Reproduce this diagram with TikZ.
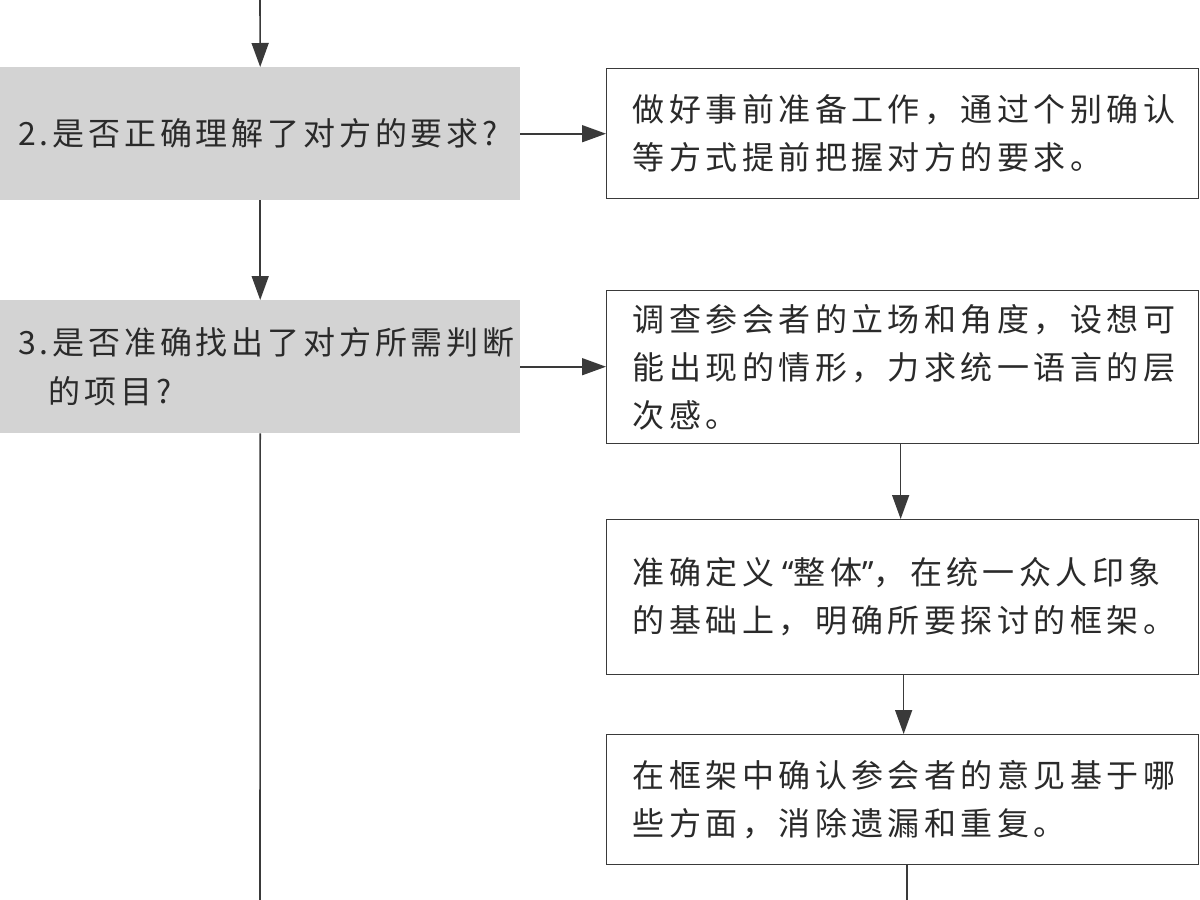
\documentclass[tikz,border=0pt]{standalone}
\usepackage{fontspec}
\usetikzlibrary{arrows.meta}
\newfontfamily\cjkright[LetterSpace=14]{Noto Sans CJK SC}
\newfontfamily\cjkgray[LetterSpace=12]{Noto Sans CJK SC}
\newfontfamily\quotefont{Noto Sans}
\definecolor{boxgray}{HTML}{D3D3D3}
\definecolor{linegray}{HTML}{3A3A3A}
\definecolor{txtgray}{HTML}{2A2A2A}
\newcommand{\righttext}{\cjkright\fontsize{32}{48}\selectfont}
\newcommand{\graytext}{\cjkgray\fontsize{32}{49}\selectfont}
\tikzset{
  graybox/.style={fill=boxgray, draw=none, minimum width=520pt, inner xsep=18pt,
    text width=484pt, align=left, font=\graytext, text=txtgray, anchor=north west, minimum height=133pt},
  whitebox/.style={draw=linegray, line width=1.3pt, fill=white, minimum width=592pt,
    inner xsep=26pt, text width=540pt, align=left, font=\righttext, text=txtgray, anchor=north west},
  conn/.style={draw=linegray, line width=1.6pt},
  arr/.style={conn, -{Triangle[length=24pt,width=17pt]}},
}
\begin{document}
\begin{tikzpicture}[x=1pt,y=-1pt]
\useasboundingbox (0,0) rectangle (1200,900);
\node[graybox] (g1) at (0,67) {2.是否正确理解了对方的要求?};
\node[graybox] (g2) at (0,300) {3.是否准确找出了对方所需判断\\\phantom{3.}的项目?};
\node[whitebox, minimum height=130pt] (w1) at (606,68) {做好事前准备工作，通过个别确认\\等方式提前把握对方的要求。};
\node[whitebox, minimum height=153pt] (w2) at (606,290) {调查参会者的立场和角度，设想可\\能出现的情形，力求统一语言的层\\次感。};
\node[whitebox, minimum height=155pt] (w3) at (606,519) {准确定义\hspace{8pt}{\quotefont “}整体{\quotefont ”}，在统一众人印象\\的基础上，明确所要探讨的框架。};
\node[whitebox, minimum height=130pt] (w4) at (606,734) {在框架中确认参会者的意见基于哪\\些方面，消除遗漏和重复。};
\coordinate (top) at (260,0);
\coordinate (bot1) at (260,900);
\coordinate (bot2) at (907,900);
\draw[arr] (top) -- (g1.north);
\draw[arr] (g1.south) -- (g2.north);
\draw[conn] (g2.south) -- (bot1);
\draw[arr] (g1.east) -- (g1.east -| w1.west);
\draw[arr] (g2.east) -- (g2.east -| w2.west);
\draw[arr] ([xshift=-2pt]w2.south) -- ([xshift=-2pt]w3.north);
\draw[arr] ([xshift=1pt]w3.south) -- ([xshift=1pt]w4.north);
\draw[conn] (w4.south -| bot2) -- (bot2);
\end{tikzpicture}
\end{document}
